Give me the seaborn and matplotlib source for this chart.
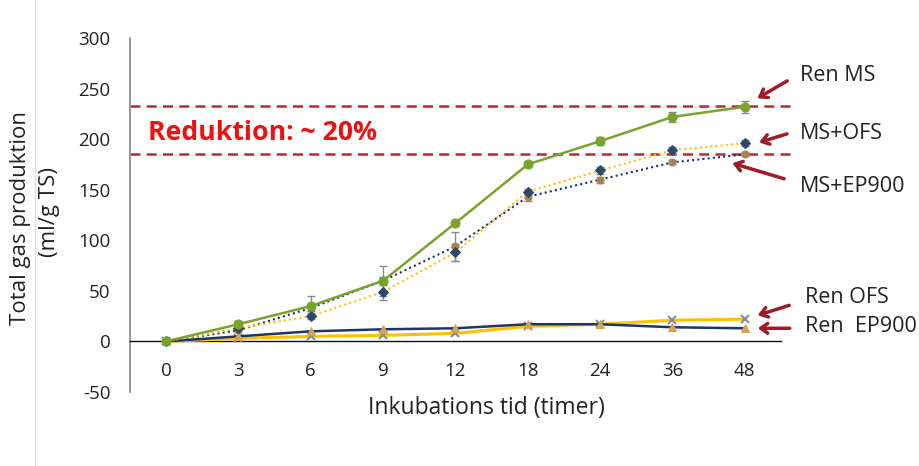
import matplotlib
matplotlib.use("Agg")
import matplotlib.pyplot as plt
from matplotlib.lines import Line2D
import seaborn as sns
import numpy as np

categories = ["0", "3", "6", "9", "12", "18", "24", "36", "48"]
ren_ms = [0, 17, 35, 60, 117, 175, 198, 222, 232]
ren_ms_err = [0, 3, 10, 15, 3, 3, 4, 5, 6]
ms_ofs = [0, 13, 25, 49, 88, 148, 169, 189, 196]
ms_ofs_err = [0, 2, 3, 8, 8, 3, 3, 3, 3]
ms_ep900 = [0, 11, 33, 60, 94, 143, 160, 177, 185]
ms_ep900_err = [0, 2, 3, 4, 14, 4, 3, 2, 2]
ren_ofs = [0, 3, 5, 6, 8, 15, 17, 21, 22]
ren_ep900 = [0, 5, 10, 12, 13, 17, 17, 14, 13]
ref_lines = [233, 185]

sns.set_style("white")
plt.rcParams["font.family"] = ["Open Sans", "DejaVu Sans"]
plt.rcParams["axes.unicode_minus"] = False

fig = plt.figure(figsize=(9.19, 4.66), dpi=100)
ax = fig.add_axes([129.8 / 919, 1 - 392 / 466, (781 - 129.8) / 919, (392 - 38) / 466])

pos = np.arange(len(categories))

green = "#7aa32c"
navy = "#1d3567"
yellow = "#ffc000"

# error bars
ax.errorbar(pos, ren_ms, yerr=ren_ms_err, fmt="none", ecolor="#8a8a8a", elinewidth=1, capsize=3, zorder=2)
ax.errorbar(pos, ms_ofs, yerr=ms_ofs_err, fmt="none", ecolor="#8a8a8a", elinewidth=1, capsize=3, zorder=2)
ax.errorbar(pos, ms_ep900, yerr=ms_ep900_err, fmt="none", ecolor="#8a8a8a", elinewidth=1, capsize=3, zorder=2)

sns.lineplot(x=pos, y=ren_ofs, ax=ax, color=yellow, lw=2.2, marker="x", markersize=6,
             markeredgecolor="#7890a8", markeredgewidth=1.5, zorder=3)
sns.lineplot(x=pos, y=ren_ep900, ax=ax, color=navy, lw=1.8, marker="^", markersize=6,
             markerfacecolor="#d1a555", markeredgecolor="#d1a555", zorder=4)
sns.lineplot(x=pos, y=ms_ep900, ax=ax, color=navy, lw=1.5, linestyle=(0, (1, 1.5)), marker="o",
             markersize=5, markerfacecolor="#a88350", markeredgecolor="#a88350", zorder=4)
sns.lineplot(x=pos, y=ms_ofs, ax=ax, color=yellow, lw=1.5, linestyle=(0, (1, 1.5)), marker="D",
             markersize=5, markerfacecolor="#2b4a6a", markeredgecolor="#2b4a6a", zorder=5)
sns.lineplot(x=pos, y=ren_ms, ax=ax, color=green, lw=1.8, marker="o", markersize=6.5,
             markerfacecolor=green, markeredgecolor=green, zorder=6)

for v in ref_lines:
    ax.plot([-0.5, 8.62], [v, v], color="#c0282e", lw=1.8, linestyle=(0, (4, 2.5)), clip_on=False, zorder=1)

ax.text(-0.25, 206, "Reduktion: ~ 20%", color="#ee1111", fontsize=19.2, fontweight="bold", va="center", ha="left")

ax.set_xlim(-0.5, 8.5)
ax.set_ylim(-50, 300)
ax.set_yticks([-50, 0, 50, 100, 150, 200, 250, 300])
ax.set_xticks(pos)
ax.set_xticklabels(categories)
ax.tick_params(axis="both", length=0, labelsize=13.5, colors="#222222")
ax.tick_params(axis="x", pad=15)
ax.tick_params(axis="y", pad=14)

for s in ["top", "right"]:
    ax.spines[s].set_visible(False)
ax.spines["left"].set_color("#888888")
ax.spines["left"].set_linewidth(1.2)
ax.spines["bottom"].set_position(("data", 0))
ax.spines["bottom"].set_color("#111111")
ax.spines["bottom"].set_linewidth(1.0)

fig.text(486 / 919, 1 - 408 / 466, "Inkubations tid (timer)", ha="center", va="center", fontsize=16.5, color="#222222")
fig.text(21 / 919, 1 - 218 / 466, "Total gas produktion", rotation=90, ha="center", va="center", fontsize=16, color="#222222")
fig.text(50 / 919, 1 - 212 / 466, "(ml/g TS)", rotation=90, ha="center", va="center", fontsize=16, color="#222222")

fig.add_artist(Line2D([35 / 919, 35 / 919], [0, 1], color="#dddddd", lw=1))

arrow_col = "#a01b26"
notes = [
    ("Ren MS", (8.14, 239), (8.62, 259), (8.76, 263)),
    ("MS+OFS", (8.16, 196), (8.62, 206), (8.76, 206)),
    ("MS+EP900", (7.79, 177), (8.58, 160), (8.76, 153)),
    ("Ren OFS", (8.14, 25), (8.65, 36.5), (8.83, 43)),
    ("Ren  EP900", (8.14, 13), (8.66, 13), (8.83, 15)),
]
for label, tip, tail, tpos in notes:
    ax.annotate("", xy=tip, xytext=tail, annotation_clip=False,
                arrowprops=dict(arrowstyle="->,head_length=0.5,head_width=0.35", color=arrow_col, lw=2.5))
    ax.text(tpos[0], tpos[1], label, ha="left", va="center", fontsize=15.5, color="#222222", clip_on=False)

fig.savefig("out.png", dpi=100)
